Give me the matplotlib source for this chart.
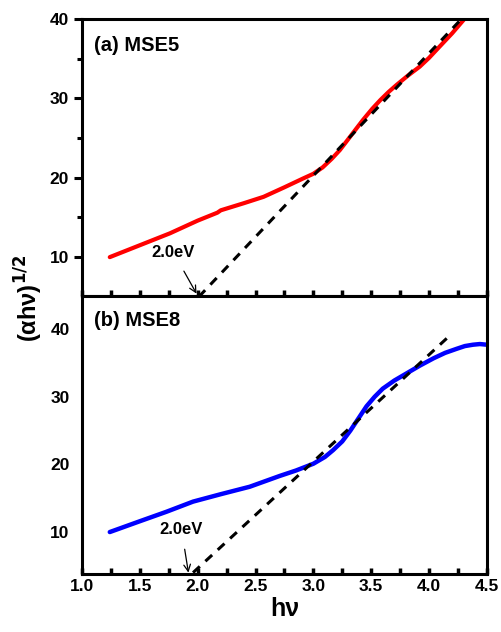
import matplotlib
matplotlib.use("Agg")
import matplotlib.pyplot as plt
from matplotlib.ticker import MultipleLocator

plt.rcParams['font.family'] = ['Liberation Sans', 'DejaVu Sans']
plt.rcParams['font.weight'] = 'bold'

# (a) MSE5
hv_a = [1.24, 1.5, 1.76, 2.0, 2.17, 2.2, 2.4, 2.57, 2.75, 2.91, 3.0, 3.08, 3.16, 3.23,
        3.33, 3.43, 3.51, 3.58, 3.65, 3.72, 3.82, 3.92, 4.0, 4.09, 4.2, 4.3]
y_a = [10.0, 11.5, 13.0, 14.6, 15.6, 15.9, 16.8, 17.6, 18.8, 19.9, 20.5, 21.3, 22.4, 23.5,
       25.4, 27.3, 28.7, 29.8, 30.8, 31.7, 32.9, 34.0, 35.1, 36.5, 38.2, 39.9]
fit_a_x = [2.01, 4.28]
fit_a_y = [5.0, 40.0]

# (b) MSE8
hv_b = [1.24, 1.5, 1.73, 1.96, 2.2, 2.45, 2.71, 2.85, 3.0, 3.1, 3.17, 3.25, 3.32, 3.39, 3.46,
        3.53, 3.6, 3.7, 3.81, 3.92, 4.04, 4.14, 4.24, 4.31, 4.38, 4.44, 4.5]
y_b = [10.0, 11.6, 13.0, 14.5, 15.6, 16.7, 18.3, 19.1, 20.1, 21.1, 22.1, 23.4, 25.0, 26.8, 28.6,
       30.0, 31.2, 32.4, 33.5, 34.6, 35.7, 36.5, 37.1, 37.5, 37.7, 37.8, 37.7]
fit_b_x = [1.96, 4.17]
fit_b_y = [4.0, 38.9]

fig = plt.figure(figsize=(5.01, 6.32), dpi=100)
ax1 = fig.add_axes([0.1637, 0.5316, 0.808, 0.4383])
ax2 = fig.add_axes([0.1637, 0.0918, 0.808, 0.4398])

for ax in (ax1, ax2):
    for s in ax.spines.values():
        s.set_linewidth(2.2)
    ax.set_xlim(1.0, 4.5)
    ax.xaxis.set_major_locator(MultipleLocator(0.5))
    ax.xaxis.set_minor_locator(MultipleLocator(0.25))
    ax.tick_params(axis='x', which='both', direction='in', length=4, width=2.5)
    ax.tick_params(axis='both', labelsize=12.5)

# top panel
ax1.plot(hv_a, y_a, color='red', lw=3, solid_joinstyle='round', solid_capstyle='round')
ax1.plot(fit_a_x, fit_a_y, color='black', lw=2.2, ls=(0, (3, 2.5)))
ax1.set_ylim(5.1, 40)
ax1.yaxis.set_major_locator(MultipleLocator(10))
ax1.yaxis.set_minor_locator(MultipleLocator(5))
ax1.tick_params(axis='y', which='major', direction='out', length=6, width=2.2)
ax1.tick_params(axis='y', which='minor', direction='out', length=3.5, width=2.2)
ax1.tick_params(axis='x', labelbottom=False)
ax1.set_yticks([10, 20, 30, 40])
ax1.text(0.03, 0.94, '(a) MSE5', transform=ax1.transAxes, fontsize=14.5,
         fontweight='bold', va='top')
ax1.annotate('2.0eV', xy=(1.99, 5.4), xytext=(1.79, 10.6), fontsize=12,
             fontweight='bold', ha='center', va='center',
             arrowprops=dict(arrowstyle='->', color='black', lw=0.9, shrinkA=7, shrinkB=0))

# bottom panel
ax2.plot(hv_b, y_b, color='blue', lw=3.2, solid_joinstyle='round', solid_capstyle='round')
ax2.plot(fit_b_x, fit_b_y, color='black', lw=2.2, ls=(0, (3, 2.5)))
ax2.set_ylim(3.8, 44.9)
ax2.set_yticks([10, 20, 30, 40])
ax2.tick_params(axis='y', length=0, pad=9)
ax2.text(0.03, 0.945, '(b) MSE8', transform=ax2.transAxes, fontsize=14.5,
         fontweight='bold', va='top')
ax2.annotate('2.0eV', xy=(1.92, 4.0), xytext=(1.86, 10.4), fontsize=12,
             fontweight='bold', ha='center', va='center',
             arrowprops=dict(arrowstyle='->', color='black', lw=0.9, shrinkA=7, shrinkB=0))
ax2.set_xlabel('h\u03bd', fontsize=18, fontweight='bold', labelpad=2)

fig.text(0.058, 0.528, '(\u03b1h\u03bd)$^{\\mathbf{1/2}}$', rotation=90, fontsize=17,
         fontweight='bold', ha='center', va='center')

fig.savefig('out.png', dpi=100)
